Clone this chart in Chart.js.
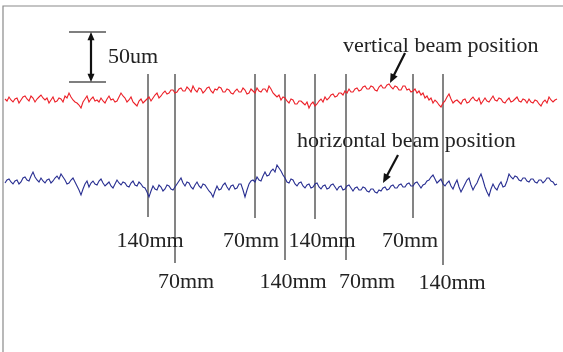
<!DOCTYPE html>
<html>
<head>
<meta charset="utf-8">
<script src="https://cdn.jsdelivr.net/npm/chart.js@4"></script>
<style>
  body { margin: 0; background: #fff; }
  canvas { display: block; }
</style>
</head>
<body>
<canvas id="beamChart" width="563" height="352"></canvas>
<script>
// beam position traces in um, one value per sample
const verticalBeam = [
  253, 251, 255, 252, 250, 253, 254, 249, 252, 255, 256, 253, 251, 256, 254, 250, 253, 255, 257, 254,
  252, 254, 249, 252, 255, 250, 251, 254, 253, 250, 256, 254, 259, 255, 252, 250, 249, 247, 244, 250,
  253, 256, 250, 253, 255, 251, 252, 250, 254, 251, 249, 253, 256, 252, 253, 250, 251, 255, 259, 256,
  254, 250, 252, 255, 250, 248, 246, 251, 253, 249, 251, 253, 255, 251, 254, 257, 259, 254, 256, 259,
  261, 258, 259, 262, 262, 259, 260, 263, 264, 261, 261, 265, 263, 260, 266, 262, 260, 264, 263, 259,
  261, 264, 265, 261, 259, 263, 262, 265, 264, 260, 260, 263, 262, 259, 258, 261, 263, 260, 260, 264,
  262, 258, 259, 263, 261, 259, 264, 261, 260, 263, 263, 260, 266, 263, 259, 257, 255, 257, 252, 255,
  254, 251, 249, 253, 252, 248, 248, 251, 251, 249, 247, 250, 244, 248, 250, 246, 248, 251, 253, 250,
  255, 252, 254, 257, 258, 255, 256, 259, 259, 257, 261, 259, 263, 260, 260, 263, 264, 261, 262, 265,
  266, 263, 263, 266, 265, 262, 261, 265, 267, 264, 264, 267, 268, 265, 263, 266, 265, 262, 262, 266,
  266, 262, 263, 260, 261, 263, 259, 261, 257, 259, 254, 256, 252, 254, 249, 252, 250, 247, 245, 249,
  251, 255, 258, 253, 249, 251, 252, 250, 248, 252, 253, 249, 250, 253, 255, 252, 251, 254, 248, 251,
  254, 251, 250, 253, 256, 252, 251, 254, 253, 250, 249, 252, 254, 250, 251, 253, 255, 251, 250, 253,
  252, 249, 253, 250, 249, 252, 251, 248, 246, 250, 252, 249, 255, 252, 250, 252, 253
];

const horizontalBeam = [
  169, 172, 173, 170, 168, 171, 172, 168, 170, 174, 175, 172, 171, 176, 180, 175, 172, 170, 174, 171,
  169, 172, 173, 169, 171, 174, 176, 173, 178, 175, 172, 168, 169, 172, 174, 170, 166, 162, 157, 163,
  168, 171, 165, 169, 171, 168, 167, 171, 173, 169, 166, 168, 170, 166, 164, 168, 172, 169, 167, 170,
  169, 166, 165, 169, 171, 167, 166, 170, 168, 165, 164, 160, 155, 161, 166, 163, 162, 167, 165, 161,
  163, 167, 166, 163, 162, 165, 168, 171, 174, 169, 166, 170, 169, 165, 163, 167, 170, 166, 164, 168,
  167, 164, 161, 159, 155, 161, 166, 162, 163, 167, 169, 165, 162, 166, 167, 163, 164, 168, 168, 162,
  155, 162, 168, 171, 172, 170, 175, 172, 171, 176, 180, 176, 177, 181, 183, 180, 187, 184, 181, 177,
  174, 170, 169, 173, 172, 168, 166, 169, 170, 166, 164, 167, 168, 164, 165, 168, 169, 165, 163, 166,
  167, 163, 164, 167, 168, 165, 162, 165, 166, 162, 163, 166, 167, 164, 161, 164, 165, 162, 162, 165,
  164, 161, 160, 163, 163, 160, 159, 162, 161, 164, 165, 162, 163, 166, 167, 164, 164, 167, 168, 165,
  165, 168, 169, 166, 166, 169, 170, 167, 164, 167, 168, 171, 172, 175, 177, 173, 169, 171, 173, 168,
  166, 169, 171, 166, 163, 168, 172, 165, 160, 164, 168, 172, 174, 167, 162, 166, 169, 174, 178, 172,
  165, 160, 156, 163, 168, 164, 162, 167, 170, 165, 166, 171, 178, 175, 173, 176, 175, 172, 171, 174,
  174, 171, 170, 173, 173, 170, 169, 172, 172, 169, 171, 174, 174, 171, 170, 167, 168
];

// magnet markers: sample position, lower end (um), label
const markerPos = [71.5, 85, 125, 140, 155, 170.5, 204, 219];
const markerEnd = [135, 89, 134, 92, 133, 92, 134, 87];
const markerTop = 278;
const markerLabels = ["140mm", "70mm", "70mm", "140mm", "140mm", "70mm", "70mm", "140mm"];
const labelPos = [72.5, 90.5, 123, 144, 158.5, 181, 202.5, 223.5];
const labelLevel = [111, 70, 111, 70, 111, 70, 111, 69];

const scaleBar = { x0: 32, x1: 50.5, xm: 43, top: 320, bottom: 270, text: "50um", tx: 51.5, ty: 295 };

const notes = [
  { text: "vertical beam position", x: 169, y: 306, ax: 200, ay: 299, bx: 192.5, by: 269 },
  { text: "horizontal beam position", x: 146, y: 211, ax: 196.5, ay: 197, bx: 189, by: 169 }
];

const fontFace = "'Liberation Serif', 'Times New Roman', serif";

function arrowHead(ctx, fx, fy, tx, ty, size) {
  const ang = Math.atan2(ty - fy, tx - fx);
  ctx.beginPath();
  ctx.moveTo(tx, ty);
  ctx.lineTo(tx - size * Math.cos(ang - 0.4), ty - size * Math.sin(ang - 0.4));
  ctx.lineTo(tx - size * Math.cos(ang + 0.4), ty - size * Math.sin(ang + 0.4));
  ctx.closePath();
  ctx.fill();
}

const extras = {
  id: "extras",
  afterDatasetsDraw(chart) {
    const ctx = chart.ctx;
    const x = chart.scales.x, y = chart.scales.y;
    ctx.save();

    // frame
    ctx.strokeStyle = "#8a8a8a";
    ctx.lineWidth = 1.2;
    ctx.beginPath();
    ctx.moveTo(x.getPixelForValue(-1), chart.height);
    ctx.lineTo(x.getPixelForValue(-1), y.getPixelForValue(346));
    ctx.lineTo(chart.width, y.getPixelForValue(346));
    ctx.stroke();

    // scale bar
    ctx.strokeStyle = "#555";
    ctx.lineWidth = 1.5;
    ctx.beginPath();
    [scaleBar.top, scaleBar.bottom].forEach(v => {
      ctx.moveTo(x.getPixelForValue(scaleBar.x0), y.getPixelForValue(v));
      ctx.lineTo(x.getPixelForValue(scaleBar.x1), y.getPixelForValue(v));
    });
    ctx.stroke();
    const mx = x.getPixelForValue(scaleBar.xm);
    const ty = y.getPixelForValue(scaleBar.top), by = y.getPixelForValue(scaleBar.bottom);
    ctx.strokeStyle = "#111";
    ctx.fillStyle = "#111";
    ctx.lineWidth = 2.2;
    ctx.beginPath();
    ctx.moveTo(mx, ty + 6);
    ctx.lineTo(mx, by - 6);
    ctx.stroke();
    arrowHead(ctx, mx, by, mx, ty, 9);
    arrowHead(ctx, mx, ty, mx, by, 9);

    ctx.font = "22px " + fontFace;
    ctx.fillStyle = "#222";
    ctx.textBaseline = "middle";
    ctx.textAlign = "left";
    ctx.fillText(scaleBar.text, x.getPixelForValue(scaleBar.tx), y.getPixelForValue(scaleBar.ty));

    // annotations with arrows
    notes.forEach(n => {
      ctx.fillStyle = "#222";
      ctx.fillText(n.text, x.getPixelForValue(n.x), y.getPixelForValue(n.y));
      const ax = x.getPixelForValue(n.ax), ay = y.getPixelForValue(n.ay);
      const bx = x.getPixelForValue(n.bx), by2 = y.getPixelForValue(n.by);
      ctx.strokeStyle = "#111";
      ctx.fillStyle = "#111";
      ctx.lineWidth = 2.2;
      ctx.beginPath();
      ctx.moveTo(ax, ay);
      ctx.lineTo(bx + (ax - bx) * 0.2, by2 + (ay - by2) * 0.2);
      ctx.stroke();
      arrowHead(ctx, ax, ay, bx, by2, 10);
    });

    // marker labels
    ctx.fillStyle = "#222";
    ctx.textAlign = "center";
    markerLabels.forEach((t, i) => {
      ctx.fillText(t, x.getPixelForValue(labelPos[i]), y.getPixelForValue(labelLevel[i]));
    });
    ctx.restore();
  }
};

const markerSets = markerPos.map((p, i) => ({
  data: [{ x: p, y: markerTop }, { x: p, y: markerEnd[i] }],
  borderColor: "#666",
  borderWidth: 1.6,
  pointRadius: 0,
  order: 3
}));

new Chart(document.getElementById("beamChart"), {
  type: "line",
  data: {
    datasets: [
      {
        data: verticalBeam.map((v, i) => ({ x: i, y: v })),
        borderColor: "rgb(236,32,40)",
        borderWidth: 1.1,
        pointRadius: 0,
        tension: 0,
        order: 1
      },
      {
        data: horizontalBeam.map((v, i) => ({ x: i, y: v })),
        borderColor: "rgb(40,46,145)",
        borderWidth: 1.1,
        pointRadius: 0,
        tension: 0,
        order: 2
      },
      ...markerSets
    ]
  },
  options: {
    responsive: false,
    animation: false,
    layout: { padding: 0 },
    plugins: { legend: { display: false }, tooltip: { enabled: false } },
    scales: {
      x: { type: "linear", min: -2.5, max: 279, display: false },
      y: { type: "linear", min: 0, max: 352, display: false }
    }
  },
  plugins: [extras]
});
</script>
</body>
</html>
